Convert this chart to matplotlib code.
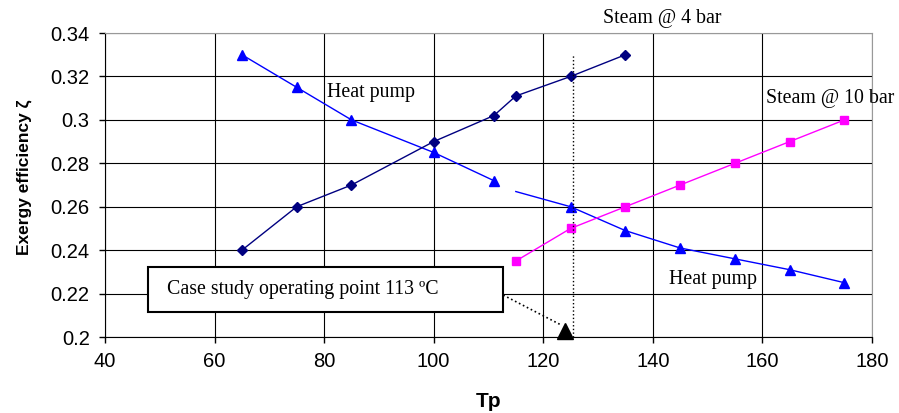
import matplotlib.pyplot as plt

# Heat pump (two segments, gap between 111 and 115)
hp_t1 = [65, 75, 85, 100, 111]
hp_z1 = [0.330, 0.315, 0.300, 0.285, 0.272]
hp_t2 = [115, 125, 135, 145, 155, 165, 175]
hp_z2 = [0.267, 0.260, 0.249, 0.241, 0.236, 0.231, 0.225]

# Steam @ 4 bar
s4_t = [65, 75, 85, 100, 111, 115, 125, 135]
s4_z = [0.240, 0.260, 0.270, 0.290, 0.302, 0.311, 0.320, 0.330]

# Steam @ 10 bar
s10_t = [115, 125, 135, 145, 155, 165, 175]
s10_z = [0.235, 0.250, 0.260, 0.270, 0.280, 0.290, 0.300]

op_t = 125.5
op_top = 0.33
case_t = 124
case_z = 0.2028

fig = plt.figure(figsize=(8.99, 4.13), dpi=100)
ax = fig.add_axes([0.1168, 0.184, 0.853, 0.736])

ax.plot(hp_t1, hp_z1, color='#0000FF', marker='^', markersize=7, linewidth=1)
ax.plot(hp_t2, hp_z2, color='#0000FF', marker='^', markersize=7, linewidth=1,
        markevery=list(range(1, len(hp_t2))))
ax.plot(s4_t, s4_z, color='#000080', marker='D', markersize=5, linewidth=1)
ax.plot(s10_t, s10_z, color='#FF00FF', marker='s', markersize=6, linewidth=1)

# operating point line
ax.plot([op_t, op_t], [0.2, op_top], color='black', linestyle=':', linewidth=1)

serif = 'Liberation Serif'
fs = 14.3
ax.text(80.5, 0.3124, 'Heat pump', family=serif, fontsize=fs, va='center')
ax.text(143, 0.2266, 'Heat pump', family=serif, fontsize=fs, va='center')
ax.text(160.7, 0.3099, 'Steam @ 10 bar', family=serif, fontsize=fs, va='center',
        clip_on=False)
ax.text(141.8, 0.3469, 'Steam @ 4 bar', family=serif, fontsize=fs, va='center',
        ha='center', clip_on=False)

# case study marker + dotted leader
ax.plot([112.7, 123.3], [0.2193, 0.2055], color='black', linestyle=':',
        linewidth=1.2)
ax.plot([case_t], [case_z], marker='^', markersize=11, color='black',
        linestyle='none', clip_on=False, zorder=6)
ax.text(51.3, 0.2221, 'Case study operating point 113 ºC', family=serif,
        fontsize=fs, va='center', zorder=5)
ax.add_patch(plt.Rectangle((47.8, 0.2117), 112.7 - 47.8, 0.2324 - 0.2117,
                           facecolor='white', edgecolor='black',
                           linewidth=1.5, zorder=4))

ax.set_xlim(40, 180)
ax.set_ylim(0.2, 0.34)
ax.set_xticks(range(40, 181, 20))
ax.set_yticks([0.2, 0.22, 0.24, 0.26, 0.28, 0.3, 0.32, 0.34])
ax.set_yticklabels(['0.2', '0.22', '0.24', '0.26', '0.28', '0.3', '0.32', '0.34'])
ax.grid(True, color='black', linewidth=0.8)
ax.set_axisbelow(True)
ax.tick_params(labelsize=14.5, direction='out', length=4, width=1, pad=7)
for lab in ax.get_xticklabels() + ax.get_yticklabels():
    lab.set_family('Liberation Sans')
ax.spines['top'].set_color('#999999')
ax.spines['right'].set_color('#999999')

ax.set_xlabel('Tp', fontsize=15, fontweight='bold', family='Liberation Sans')
ax.xaxis.set_label_coords(0.5, -0.18)
ax.set_ylabel('Exergy efficiency ζ', fontsize=12.5, fontweight='bold',
              family='Liberation Sans')
ax.yaxis.set_label_coords(-0.095, 0.526)

fig.savefig('out.png', dpi=100)
